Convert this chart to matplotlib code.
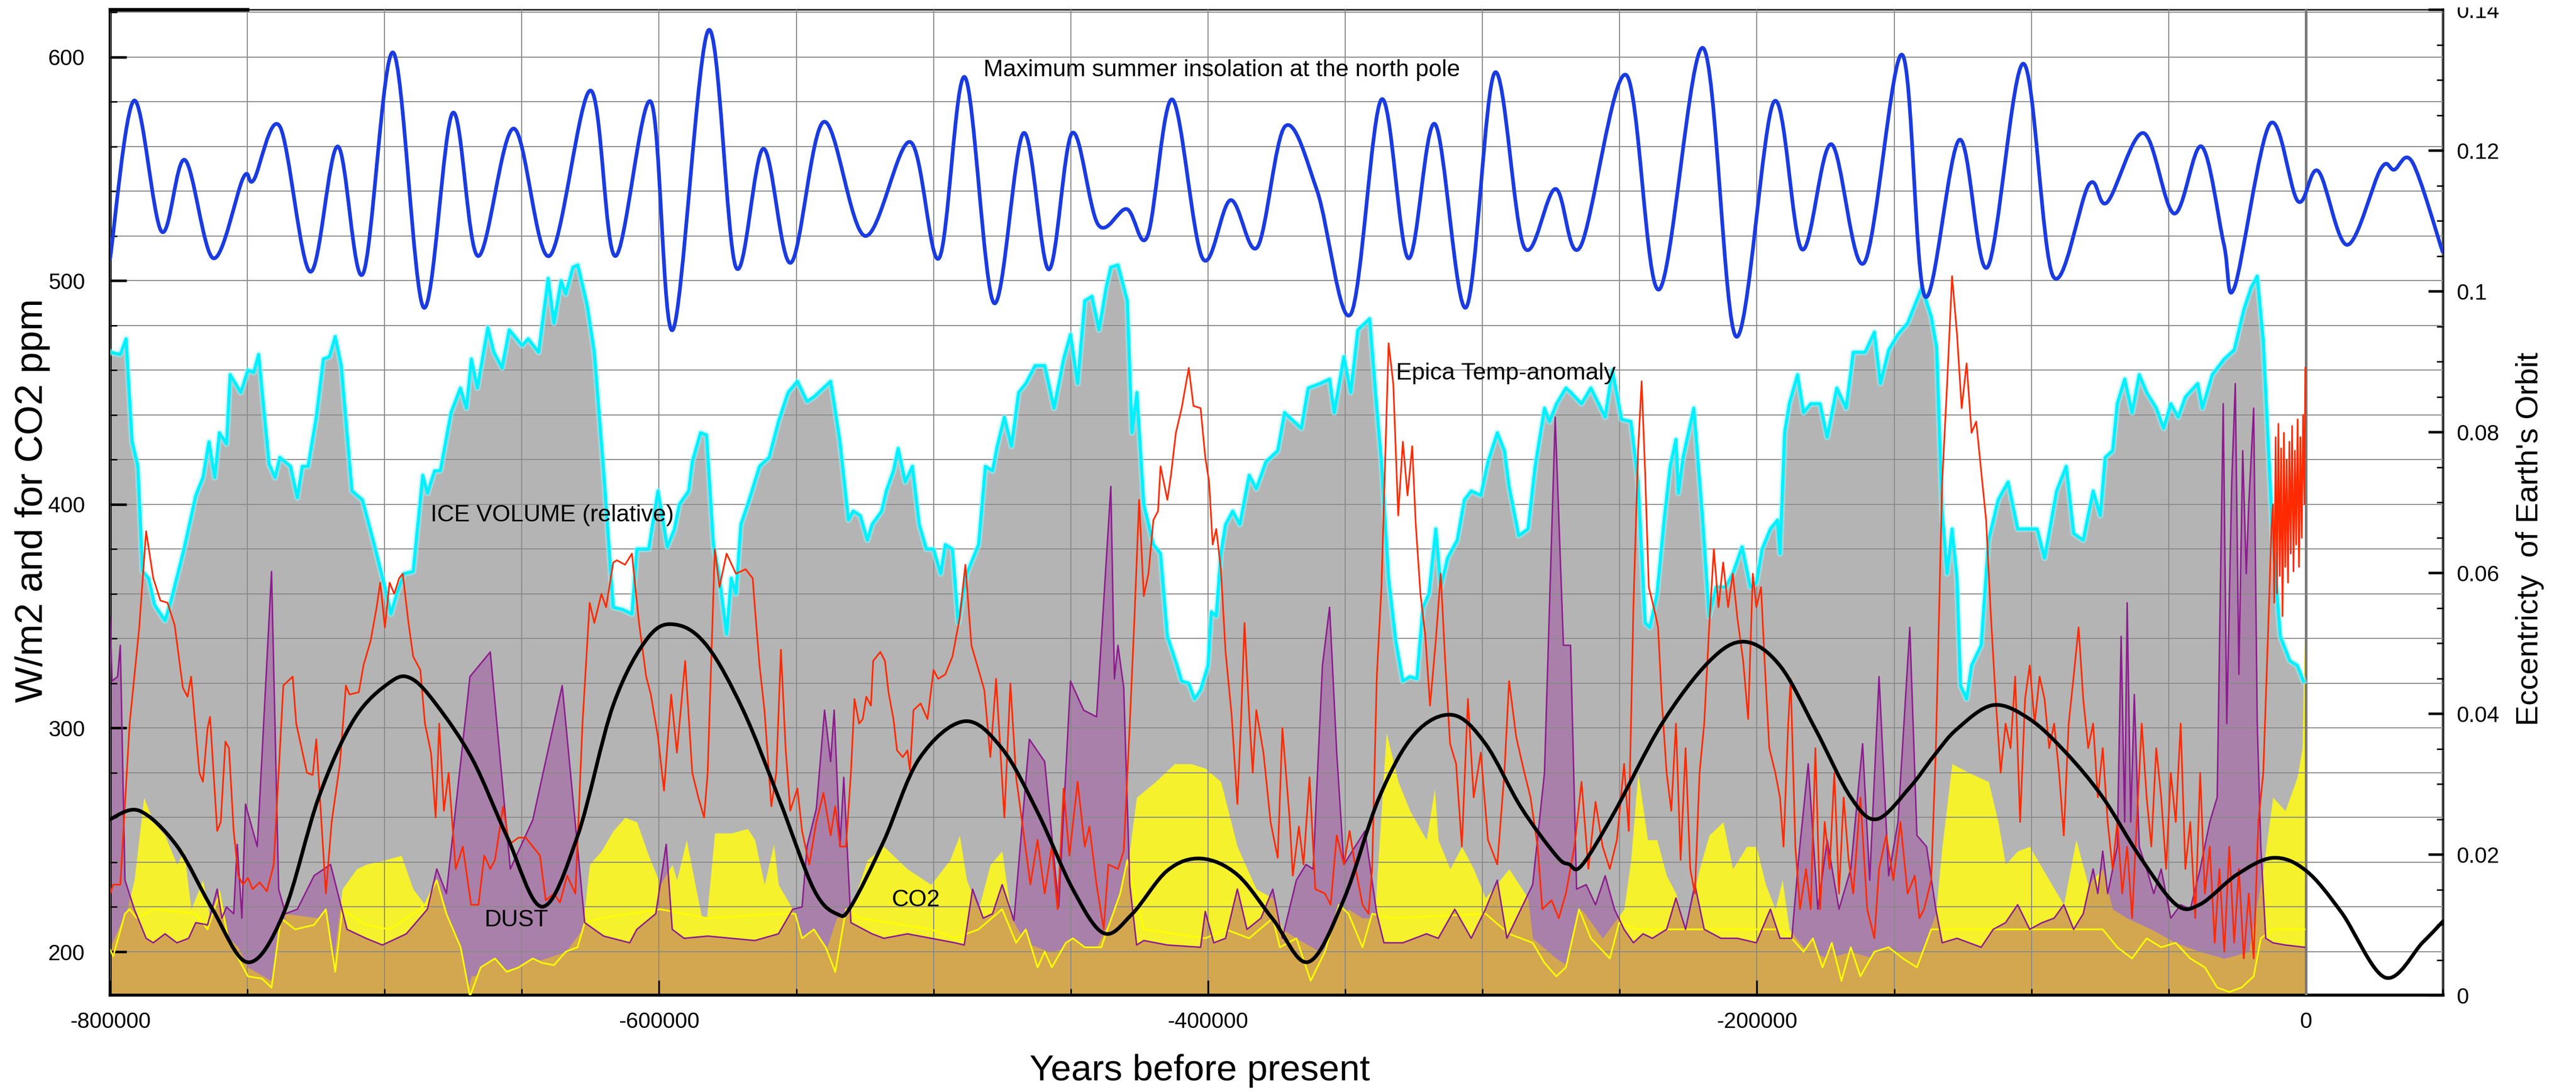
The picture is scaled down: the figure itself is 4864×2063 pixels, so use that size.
import numpy as np
import matplotlib
matplotlib.use("Agg")
import matplotlib.pyplot as plt
from matplotlib.ticker import MultipleLocator, FixedLocator, FixedFormatter
from matplotlib.path import Path
from matplotlib.patches import PathPatch, Rectangle

plt.rcParams['font.family'] = ['Liberation Sans', 'DejaVu Sans']

# ---------------- data (years in thousands of years, values on left scale) ----------------
insol_kyr = [-800.0,-791.3,-781.3,-772.8,-762.4,-751.5,-747.7,-738.2,-727.1,-717.1,-707.9,-696.9,-685.8,-675.2,-666,-653,-640,-625,-616,-603,-595,-582,-572,-562,-552,-540,-525,-508.5,-498,-488.6,-478,-467.2,-458,-449.5,-440,-429.6,-422,-413,-402,-391.8,-382,-371.9,-360.2,-348,-336.8,-327,-317.3,-306,-295.5,-284.8,-273.4,-264.4,-247.7,-235.7,-219.6,-207.6,-193.8,-183.6,-172.9,-160.9,-147.1,-138.8,-126.2,-116,-102.9,-92.1,-79,-72.4,-59.2,-48,-38,-29.9,-26.0,-13.1,-2.9,4.5,15.1,27.3,32.2,38.8,49.8]
insol_wm2 = [510,580.5,522,554,510,546,545,569,504,560,503,602,488,575,511,568,511,585,511,580,478,612,506,559,508,571,520,562,510,591,490,566,505,566,525,532,520,581,510,536,515,569,540,485,581,510,570,488,593,515,541,515,592,496,604,475,580,514,561,508,601,493,563,506,597,502,543,535,566,530,560,516.5,497,570,535.5,549,516,550,549.6,553,513]

ecc_kyr = [-800.0,-789.4,-775.7,-762.8,-749.8,-736.9,-724.0,-711.1,-698.2,-690.4,-681.0,-668.0,-655.5,-642.6,-629.7,-616.7,-603.8,-593.5,-582.3,-569.4,-556.5,-543.6,-535.0,-530.1,-518.1,-505.2,-488.8,-475.0,-462.1,-449.2,-438.0,-427.7,-414.8,-402.5,-389.3,-376.4,-363.5,-350.5,-337.6,-324.7,-310.9,-298.9,-286.0,-273.1,-268.5,-263.9,-251.9,-234.7,-217.4,-204.5,-191.6,-178.7,-165.8,-156.3,-144.3,-135.5,-127.1,-113.9,-100.6,-87.3,-74.0,-60.7,-47.4,-38.5,-25.2,-12.0,0.0,12.9,28.9,42.6,50.0]
ecc_val = [0.0250,0.0262,0.0212,0.01226,0.00466,0.01153,0.0281,0.0392,0.0444,0.0450,0.0412,0.0335,0.0226,0.01256,0.0226,0.0412,0.0509,0.0526,0.0495,0.0405,0.0281,0.0150,0.0115,0.0126,0.0219,0.0336,0.0389,0.0350,0.0260,0.0150,0.0088,0.0115,0.0177,0.0194,0.0171,0.0108,0.0047,0.0136,0.0281,0.0371,0.0398,0.0357,0.0267,0.0198,0.0186,0.0184,0.0260,0.0385,0.0474,0.0502,0.0468,0.0378,0.0281,0.0250,0.0295,0.0340,0.0378,0.0412,0.0392,0.0344,0.0281,0.0198,0.0129,0.0129,0.0171,0.0195,0.0177,0.0118,0.0025,0.0075,0.0105]

ice_kyr = [-799.8,-796.3,-794.2,-792.0,-789.9,-788.2,-786.0,-783.8,-780.0,-777.8,-773.1,-768.8,-766.2,-764.0,-761.9,-760.2,-757.6,-756.3,-752.4,-749.8,-747.7,-745.9,-742.1,-739.9,-738.2,-734.3,-731.8,-730.0,-727.9,-724.9,-722.3,-720.1,-718.0,-715.8,-711.9,-708.1,-704.2,-699.9,-697.7,-695.6,-693.0,-689.6,-686.1,-684.4,-681.8,-679.7,-675.8,-672.4,-670.2,
           -668.4,-666.2,-662.4,-660.2,-657.2,-654.6,-649.9,-647.7,-643.9,-640.4,-638.3,-635.7,-634.0,-631.4,-629.6,-626.2,-623.6,-620.2,-616.7,-613.3,-609.9,-608.1,-603.8,-600.4,-597.0,-594.4,-592.6,-589.2,-587.9,-584.9,-582.7,-580.2,-578.0,-575.4,-573.7,-572.0,-570.2,-567.7,-563.4,-559.9,-556.5,-553.0,-549.6,-546.1,-543.6,-540.1,-537.5,-536.2,-534.1,
           -531.0,-529.3,-526.7,-524.1,-522.4,-518.9,-517.2,-514.6,-512.9,-510.3,-507.7,-505.2,-502.6,-500.0,-497.4,-495.7,-493.1,-491.0,-487.9,-483.6,-481.1,-478.5,-476.8,-474.2,-471.6,-469.0,-466.4,-463.0,-459.5,-456.1,-452.6,-450.1,-447.5,-444.9,-442.3,-439.7,-437.1,-435.4,-432.8,-429.4,-427.7,-425.9,-423.4,-419.9,-417.3,-414.8,-411.3,-409.6,-407.0,-404.9,-402.7,
           -400.0,-398.8,-397.0,-395.3,-393.6,-391.0,-388.4,-385.0,-382.4,-378.9,-374.6,-372.1,-369.5,-366.0,-363.5,-359.2,-355.7,-354.0,-350.5,-348.0,-345.4,-341.1,-338.5,-336.8,-334.2,-331.6,-329.0,-326.4,-323.9,-321.7,-319.5,-317.0,-315.2,-312.7,-309.2,-306.6,-304.1,-300.6,-298.0,-294.6,-292.0,-290.3,-286.8,-283.4,-280.8,-277.4,-275.6,-273.0,-269.6,
           -267.8,-263.9,-260.5,-255.3,-252.7,-249.3,-245.9,-243.3,-240.7,-239.0,-236.4,-233.8,-231.6,-229.5,-228.6,-226.9,-223.0,-220.0,-217.4,-214.9,-211.4,-208.8,-205.4,-202.4,-200.2,-198.1,-195.1,-192.5,-191.6,-189.9,-188.2,-185.2,-183.0,-180.4,-177.0,-174.4,-170.9,-167.5,-164.9,-160.6,-157.2,-155.0,-152.0,-148.6,-145.1,-139.9,-136.5,
           -134.5,-132.5,-130.7,-128.9,-127.1,-125.8,-123.6,-121.8,-118.3,-115.6,-112.1,-108.5,-105.0,-100.6,-97.9,-95.2,-90.8,-87.3,-84.6,-81.1,-77.5,-74.9,-73.1,-70.4,-68.7,-66.0,-63.3,-60.7,-58.0,-54.5,-51.8,-49.2,-46.5,-43.9,-39.4,-37.7,-34.1,-29.7,-26.1,-22.6,-19.9,-17.7,-15.5,-12.0,-9.3,-5.8,-3.1,-0.9]
ice_val = [468,467,474,428,417,370,367,355,348,357,380,404,412,428,412,432,427,458,450,460,459,467,418,412,421,417,403,417,417,439,465,466,475,462,406,402,384,363,351,360,369,370,413,405,415,415,441,452,443,
           465,452,479,468,461,478,471,474,468,501,481,500,494,506,507,489,468,415,354,353,351,380,380,406,381,389,400,406,419,432,431,382,367,342,367,360,391,400,417,421,437,450,455,446,448,452,455,445,428,
           393,397,395,384,391,397,406,415,425,410,417,391,380,380,369,382,380,347,369,382,417,415,426,439,426,450,454,462,462,443,465,476,454,491,493,478,497,506,507,491,432,450,400,382,378,341,328,321,320,313,317,
           328,352,350,378,391,397,391,413,407,419,424,441,438,434,452,454,456,441,466,450,478,483,443,419,367,339,321,323,322,354,360,389,363,376,384,402,406,404,419,432,424,408,386,389,417,443,437,445,452,
           450,445,452,439,460,438,437,410,347,345,360,393,417,429,405,421,443,397,350,363,363,369,381,363,365,380,389,393,378,432,445,458,441,445,445,430,452,443,468,468,477,454,469,476,481,497,484,
           470,397,369,389,367,319,313,328,337,384,402,410,389,389,389,376,406,417,387,384,406,395,421,424,445,456,441,458,450,443,434,445,439,448,454,443,458,465,469,487,497,502,473,384,341,330,328,321]

temp_kyr = [-800.0,-798.9,-796.3,-792.9,-789.4,-786.9,-784.3,-781.7,-779.1,-776.5,-773.5,-771.8,-770.5,-767.5,-766.2,-764.5,-763.6,-761.0,-759.7,-758.0,-756.7,-755.0,-753.3,-751.6,-749.8,-748.1,-745.5,-742.9,-740.4,-736.9,-733.5,-732.2,-728.3,-726.2,-724.9,-721.4,-719.3,-716.3,-714.1,-712.8,-709.4,-707.7,-705.1,-702.9,-701.6,-699.9,-698.2,-696.5,-694.7,-693.4,-691.3,-689.6,-687.0,-685.3,-683.1,-681.4,-680.1,-678.4,-676.7,-674.1,-671.5,-668.5,
            -665.8,-663.7,-661.5,-659.8,-656.8,-654.6,-651.2,-648.6,-646.0,-643.4,-641.3,-638.3,-636.1,-633.5,-630.5,-627.9,-625.3,-623.6,-621.0,-619.3,-616.7,-615.4,-612.4,-609.9,-607.3,-604.7,-603.0,-600.4,-598.2,-595.6,-593.5,-590.5,-587.9,-585.7,-583.6,-582.3,-579.7,-578.0,-575.4,-572.0,-568.5,-565.9,-565.1,-563.4,-561.6,-559.1,-557.3,-555.6,-553.9,-552.2,-549.6,-547.9,-545.3,-542.7,-540.1,-537.5,-535.8,
            -534.0,-531.9,-530.1,-528.8,-527.1,-525.8,-524.5,-522.8,-522.0,-519.4,-517.7,-516.4,-514.6,-513.3,-511.2,-509.5,-508.6,-507.3,-504.7,-502.2,-500.0,-498.3,-495.7,-493.1,-490.5,-488.4,-486.2,-483.6,-481.5,-479.3,-477.2,-474.2,-472.0,-469.9,-467.3,-464.7,-462.1,-459.5,-456.9,-454.8,-452.6,-450.5,-447.5,-444.9,-443.2,-440.6,-438.0,-436.3,-432.8,-430.7,-428.5,-426.8,-425.1,-423.4,-421.7,-419.9,-418.2,-417.3,-414.8,-413.5,-411.7,-409.6,-407.0,-405.3,-402.7,-401.0,
            -399.6,-398.3,-397.0,-395.3,-393.6,-391.4,-389.3,-388.0,-386.7,-385.0,-383.7,-382.4,-379.8,-377.2,-374.6,-372.9,-370.3,-369.1,-366.9,-365.2,-363.0,-360.9,-357.4,-355.3,-353.1,-350.5,-348.4,-346.2,-343.7,-341.5,-340.2,-338.5,-336.8,-334.2,-332.5,-330.7,-329.0,-327.3,-325.6,-324.3,-322.6,-320.8,-319.1,-317.0,-315.2,-313.5,-311.8,-309.6,-307.5,-305.3,-303.2,-300.6,-298.0,-294.6,-292.0,-290.3,-287.7,-285.1,-282.5,-279.9,-278.2,-274.8,-272.2,-269.6,
            -266.5,-263.9,-261.4,-258.8,-256.2,-253.6,-251.0,-248.4,-246.7,-245.0,-243.3,-242.0,-240.7,-239.4,-237.2,-236.0,-234.7,-232.9,-231.2,-229.5,-227.8,-226.0,-224.3,-222.6,-220.9,-219.2,-217.4,-215.7,-214.0,-212.3,-210.5,-208.8,-207.1,-205.0,-203.2,-201.5,-200.2,-198.5,-197.2,-195.5,-193.3,-191.6,-190.3,-188.6,-187.7,-186.0,-184.3,-182.1,-180.4,-178.7,-177.0,-175.3,-173.5,-171.8,-170.1,-168.4,-166.6,-164.9,-162.3,-159.8,-157.2,-155.5,-152.9,-150.3,-147.7,-145.1,-142.5,-140.8,-139.1,-136.5,-134.8,
            -132.5,-130.7,-128.9,-127.1,-125.4,-123.6,-121.8,-120.1,-118.3,-116.5,-114.7,-113.0,-111.2,-109.4,-107.6,-105.9,-104.1,-102.3,-100.6,-98.8,-97.0,-95.2,-93.5,-91.7,-89.9,-88.2,-86.4,-84.6,-82.8,-81.1,-79.3,-77.5,-75.8,-74.0,-72.2,-70.4,-68.7,-66.9,-65.1,-63.3,-61.6,-59.8,-58.0,-56.3,-54.5,-52.7,-50.9,-49.2,-47.4,-45.6,-43.9,-42.1,-40.3,-38.5,-36.8,-35.0,-33.2,-31.5,-29.7,-27.9,-26.1,-24.4,-22.6,-20.8,-19.0,-17.3,-15.5,-13.7,
            -12.5,-12.0,-11.5,-11.0,-10.5,-10.0,-9.5,-9.0,-8.5,-8.0,-7.5,-7.0,-6.5,-6.0,-5.5,-5.0,-4.5,-4.0,-3.5,-3.0,-2.5,-2.0,-1.5,-1.0,-0.5,-0.2]
temp_val = [226,230,230,302,345,388,367,357,356,346,318,314,323,280,276,300,305,254,258,294,291,254,234,230,233,228,231,227,239,319,323,302,280,279,295,226,258,284,319,315,316,328,339,354,365,345,365,360,367,369,347,332,326,302,289,260,302,263,280,237,247,221,
            221,243,237,241,265,248,251,251,247,243,223,226,222,234,226,302,356,347,360,354,374,375,373,378,347,323,315,296,272,315,289,330,280,269,260,280,380,363,378,369,371,367,354,328,308,265,280,335,291,263,273,254,239,258,271,252,265,
            247,247,280,313,302,304,314,310,330,334,330,316,304,290,287,290,281,308,311,304,326,322,324,332,349,373,337,326,317,287,322,260,320,278,254,230,250,226,247,219,273,243,276,247,256,230,210,239,237,245,302,349,402,359,369,393,397,417,402,413,432,443,461,444,443,421,
            410,382,389,371,334,306,266,302,347,306,280,308,289,258,242,300,260,234,256,239,278,228,226,221,252,239,254,237,221,217,237,323,363,472,454,395,428,404,426,391,360,341,310,339,369,328,293,284,247,313,269,289,250,239,280,321,296,282,269,247,219,223,215,226,
            247,276,237,267,247,237,250,284,254,354,424,455,413,363,352,345,313,280,263,302,241,291,237,226,280,302,345,380,354,374,354,369,349,330,304,369,354,363,330,291,280,269,247,302,322,247,219,237,219,291,219,258,237,280,226,269,241,226,269,219,206,237,252,232,258,226,234,215,219,232,291,
            410,454,502,476,443,463,432,437,415,393,349,313,280,302,291,323,258,313,328,302,323,313,291,302,280,252,302,323,345,313,291,302,269,291,258,237,258,226,247,215,258,302,269,247,291,269,237,280,258,302,237,258,215,280,226,247,204,237,200,247,204,237,197,226,197,258,280,345,
            390,400,356,430,360,436,368,425,350,432,372,420,365,428,378,435,370,424,382,438,372,430,385,440,400,461]

dust_kyr = [-800.0,-799.3,-797.3,-796.3,-794.6,-791.2,-786.9,-784.3,-780.0,-775.7,-771.4,-768.8,-764.5,-761.0,-759.3,-757.6,-755.0,-753.7,-752.0,-750.7,-746.4,-741.2,-738.6,-736.1,-731.8,-725.7,-719.7,-713.7,-706.8,-700.8,-692.1,-684.4,-681.0,-677.5,-668.9,
            -661.5,-654.2,-646.0,-635.3,-627.1,-620.2,-610.7,-608.1,-601.2,-597.4,-595.2,-590.9,-582.3,-573.7,-565.1,-556.5,-551.3,-547.9,-546.1,-542.7,-539.7,-537.5,-536.2,-534.1,
            -532.7,-531.4,-530.1,-522.4,-518.1,-509.5,-500.9,-492.2,-488.8,-485.8,-481.9,-478.5,-475.0,-470.7,-465.1,-459.5,-454.4,-450.1,-445.3,-440.6,-435.4,-434.1,-432.8,-430.7,-428.5,-426.0,-423.4,-414.8,-402.7,-401.0,
            -397.9,-393.6,-389.3,-385.8,-380.7,-376.4,-372.9,-367.8,-364.3,-361.7,-358.3,-355.7,-353.1,-350.5,-342.8,-338.5,-335.9,-329.0,-320.4,-316.1,-310.1,-304.1,-298.9,-294.6,-291.1,-281.7,-277.4,-273.5,-270.5,-267.9,
            -265.7,-262.2,-258.8,-255.3,-251.9,-248.4,-245.0,-241.5,-238.1,-232.9,-229.5,-226.0,-222.6,-219.2,-213.1,-207.1,-200.2,-195.1,-191.6,-187.3,-184.7,-181.3,-177.8,-174.4,-170.1,-165.8,-161.5,-158.9,-155.5,-152.0,-148.6,-144.3,-141.7,-138.2,-134.8,
            -132.5,-127.1,-122.7,-118.3,-113.9,-109.4,-105.0,-100.6,-96.1,-91.7,-88.2,-84.6,-81.1,-77.5,-75.8,-74.0,-72.2,-68.7,-67.3,-66.0,-65.1,-63.8,-62.5,-60.7,-58.0,-55.4,-52.7,-49.2,-45.6,-42.1,-38.5,-35.0,-32.3,-30.1,-28.8,-27.0,-25.7,-24.4,-23.0,-21.7,-20.8,-19.0,-17.7,-16.4,-14.6,-12.0,-7.5,-0.4]
dust_val = [350,321,323,337,232,219,206,204,208,204,206,213,212,228,215,220,217,248,215,266,247,370,228,217,219,234,239,210,206,203,208,219,237,226,323,
            334,237,259,319,213,207,204,210,217,248,210,206,207,206,205,208,219,220,247,264,308,285,308,247,
            278,245,213,208,206,208,206,204,203,228,215,217,230,214,295,285,220,321,308,305,408,322,337,318,230,203,205,203,202,218,
            204,206,228,210,215,228,206,232,239,237,328,354,289,239,254,217,204,204,208,206,219,206,219,232,206,230,280,439,337,337,
            228,230,221,234,219,210,204,208,206,210,224,210,230,210,206,206,204,219,206,206,243,284,219,250,219,237,293,232,323,234,258,345,252,247,219,
            204,206,204,202,210,213,221,210,213,215,221,210,217,237,226,245,226,247,341,258,356,258,315,247,237,226,237,215,221,219,237,258,269,445,302,410,454,324,424,369,400,443,302,247,206,204,203,202]

co2_kyr = [-800.0,-793.8,-791.2,-787.7,-784.3,-780.0,-775.7,-773.1,-770.5,-766.2,-763.6,-760.2,-756.7,-753.3,-749.8,-741.2,-736.1,-724.0,-718.8,-715.4,-710.2,-706.8,-699.9,-693.9,-689.6,-685.3,-681.0,-676.7,-669.8,
           -668.4,-651.2,-634.0,-627.9,-625.3,-621.0,-616.7,-612.4,-608.1,-603.8,-599.5,-595.2,-593.5,-590.0,-585.7,-583.2,-579.7,-573.7,-567.7,-565.1,-561.6,-558.2,-556.5,-551.3,-547.9,-539.3,
           -535.3,-530.1,-524.1,-518.1,-509.5,-500.9,-494.0,-490.5,-487.9,-483.6,-479.3,-475.0,-471.6,-466.4,-457.8,-449.2,-440.6,-433.7,-429.4,-426.0,-419.1,-412.2,-406.1,-401.0,
           -395.3,-389.3,-382.4,-376.4,-372.9,-367.8,-359.2,-354.0,-348.8,-343.7,-339.3,-335.0,-330.7,-326.4,-320.4,-317.4,-316.1,-311.8,-307.5,-303.2,-298.9,-290.3,-283.4,-281.7,-273.1,-267.9,
           -263.9,-256.2,-248.4,-245.9,-243.3,-239.8,-236.4,-232.9,-229.5,-226.0,-220.9,-217.4,-212.3,-208.8,-203.7,-200.2,-196.8,-193.3,-190.7,-188.2,-183.0,-174.4,-165.8,-157.2,-148.6,-140.0,-134.8,
           -132.5,-128.9,-122.7,-115.6,-112.1,-109.4,-105.0,-100.6,-93.5,-88.2,-83.7,-79.3,-74.0,-70.4,-65.1,-56.3,-47.4,-38.5,-29.7,-20.8,-15.5,-12.0,-7.5,-3.1,-1.3,0.0]
co2_ppm = [202,219,232,269,258,252,239,245,219,232,215,228,206,202,193,187,217,215,193,228,237,239,241,243,228,221,232,215,182,
           189,193,200,210,239,245,254,260,258,243,230,239,232,250,223,208,253,253,255,250,230,248,230,219,204,200,
           215,219,241,247,237,230,241,252,232,219,239,245,215,204,200,202,202,219,237,269,276,284,284,282,
           276,247,228,224,210,206,200,204,219,215,215,298,276,263,250,273,250,237,247,237,224,237,224,206,197,193,
           219,206,219,241,280,250,250,234,226,210,237,252,258,237,247,247,230,219,232,210,202,197,200,197,200,200,217,
           247,284,280,276,258,239,245,247,232,221,250,230,237,219,215,210,204,200,197,200,237,269,263,278,291,367]

low_kyr = [-800.0,-798.9,-794.6,-792.9,-790.3,-784.3,-775.7,-768.8,-764.5,-760.2,-756.7,-753.3,-749.8,-744.7,-741.2,-737.8,-732.6,-725.7,-721.4,-718.0,-715.4,-706.8,-698.2,-689.6,-685.3,-681.0,-677.5,-672.3,-668.9,
           -665.0,-659.8,-655.5,-651.2,-646.0,-642.6,-638.3,-634.0,-629.7,-627.1,-621.0,-599.5,-582.3,-556.5,-550.4,-547.9,-543.6,-539.3,-535.8,
           -531.9,-526.7,-500.9,-492.2,-483.6,-475.0,-469.9,-466.4,-462.1,-459.5,-456.9,-451.8,-449.2,-444.9,-438.9,-437.2,-432.0,-429.4,-423.4,-401.0,
           -393.6,-385.0,-376.4,-373.8,-367.8,-362.6,-357.4,-352.3,-348.8,-343.7,-340.2,-333.3,-298.9,-290.3,-281.7,-277.4,-273.1,-269.6,
           -264.8,-260.5,-253.6,-250.2,-243.3,-191.6,-187.3,-183.0,-179.6,-176.1,-172.7,-169.2,-165.8,-162.3,-157.2,-152.0,-146.8,-141.7,-136.5,
           -127.1,-74.0,-68.7,-63.3,-58.0,-52.7,-47.4,-42.1,-36.8,-32.3,-27.9,-23.4,-19.0,-16.4,-12.0,-0.4]
low_val = [201,198,217,219,215,219,218,217,210,226,204,197,189,188,184,215,210,212,219,191,219,212,210,217,221,232,217,202,180,
           193,197,191,193,197,195,194,200,202,213,215,219,215,217,217,206,210,202,191,
           219,215,210,206,210,219,204,210,193,200,193,204,206,202,202,208,226,241,210,206,
           210,206,215,202,206,187,200,221,217,202,217,215,217,208,204,195,189,193,
           219,206,197,213,210,210,206,200,206,193,204,187,202,189,200,202,197,193,210,
           210,210,202,197,206,202,204,197,193,184,182,184,189,206,210,210]

x_ticks = [-800000, -600000, -400000, -200000, 0]
x_ticklabels = ["-800000", "-600000", "-400000", "-200000", "0"]
y_ticks = [200, 300, 400, 500, 600]
ecc_ticks = [0, 0.02, 0.04, 0.06, 0.08, 0.10, 0.12, 0.14]
ecc_ticklabels = ["0", "0.02", "0.04", "0.06", "0.08", "0.1", "0.12", "0.14"]


def yrs(k):
    return np.asarray(k, dtype=float) * 1000.0


def smooth_curve(xs, ys):
    """Path that passes through every data point, drawn with cubic Bezier segments."""
    P = np.column_stack([xs, ys]).astype(float)
    n = len(P)
    verts = [P[0]]
    codes = [Path.MOVETO]
    for i in range(n - 1):
        p0 = P[i - 1] if i > 0 else P[i]
        p1 = P[i]
        p2 = P[i + 1]
        p3 = P[i + 2] if i + 2 < n else P[i + 1]
        verts += [p1 + (p2 - p0) / 6.0, p2 - (p3 - p1) / 6.0, p2]
        codes += [Path.CURVE4] * 3
    return Path(verts, codes)


# ---------------- figure ----------------
W, H = 4864, 2063
DPI = 200
fig = plt.figure(figsize=(W / DPI, H / DPI), dpi=DPI)
ax = fig.add_axes([208 / W, 1 - 1880 / H, (4613 - 208) / W, (1880 - 18) / H])
YMIN, YMAX = 180.6, 621.2
ax.set_xlim(-800000, 50000)
ax.set_ylim(YMIN, YMAX)

GRAY = '#b4b4b4'
YELLOW = '#f5f12c'
ax.fill_between(yrs(ice_kyr), YMIN, ice_val, color=GRAY, lw=0, zorder=1.0)
ax.fill_between(yrs(co2_kyr), YMIN, co2_ppm, color=YELLOW, lw=0, zorder=1.1)
ax.fill_between(yrs(low_kyr), YMIN, low_val, color=YELLOW, lw=0, zorder=1.1)
ax.fill_between(yrs(dust_kyr), YMIN, dust_val, color=(0.59, 0.12, 0.59), alpha=0.35, lw=0, zorder=1.2)

ax.set_axisbelow(False)
ax.xaxis.set_minor_locator(MultipleLocator(50000))
ax.yaxis.set_minor_locator(MultipleLocator(20))
ax.grid(True, which='both', color='#8a8a8a', lw=0.7)
ax.axvline(0, color='#7a7a7a', lw=1.8, zorder=2.6)

ax.plot(yrs(ice_kyr), ice_val, color='#8ff9ff', lw=4.4, alpha=0.5, zorder=3.0, solid_joinstyle='round')
ax.plot(yrs(ice_kyr), ice_val, color='#00f0ff', lw=2.1, zorder=3.05, solid_joinstyle='round')
ax.plot(yrs(low_kyr), low_val, color='#ffff00', lw=1.1, zorder=3.1)
ax.plot(yrs(dust_kyr), dust_val, color='#8c1c8e', lw=1.0, zorder=3.2)
ax.plot(yrs(temp_kyr), temp_val, color='#ff2a00', lw=1.1, zorder=3.3)
ax.add_patch(PathPatch(smooth_curve(yrs(insol_kyr), insol_wm2), fill=False,
                       edgecolor='#1a3be0', lw=2.5, zorder=3.4, joinstyle='round', capstyle='round'))

ax.set_xticks(x_ticks)
ax.set_xticklabels(x_ticklabels)
ax.set_yticks(y_ticks)
ax.set_yticklabels([str(v) for v in y_ticks])
ax.tick_params(axis='y', which='major', direction='in', length=11, width=1.7, labelsize=15, pad=17, right=False)
ax.tick_params(axis='y', which='minor', direction='in', length=4.5, width=1.0, right=False)
ax.tick_params(axis='x', which='major', direction='in', length=10, width=1.2, labelsize=15, pad=11, top=False)
ax.tick_params(axis='x', which='minor', direction='in', length=4.5, width=1.0, top=False)

for s in ['left', 'bottom']:
    ax.spines[s].set_linewidth(2.0)
ax.spines['top'].set_linewidth(0.9)
ax.spines['right'].set_linewidth(1.6)
ax.axhline(YMAX, xmin=0, xmax=50 / 850, color='k', lw=2.4, clip_on=False, zorder=5)

ax2 = ax.twinx()
ax2.set_ylim(0, 0.14)
ax2.add_patch(PathPatch(smooth_curve(yrs(ecc_kyr), ecc_val), fill=False,
                        edgecolor='k', lw=2.5, zorder=3, joinstyle='round', capstyle='round'))
ax2.set_xlim(-800000, 50000)
ax2.yaxis.set_major_locator(FixedLocator(ecc_ticks))
ax2.yaxis.set_major_formatter(FixedFormatter(ecc_ticklabels))
ax2.yaxis.set_minor_locator(MultipleLocator(0.005))
ax2.tick_params(axis='y', which='major', direction='in', length=10, width=1.7, labelsize=15, pad=9)
ax2.tick_params(axis='y', which='minor', direction='in', length=4.5, width=1.0)
for s in ax2.spines.values():
    s.set_visible(False)

txt = dict(fontsize=16, color='k', zorder=6, va='center', ha='left')
ax.text(-481900, 594, "Maximum summer insolation at the north pole", **txt)
ax.text(-683300, 395, "ICE VOLUME (relative)", **txt)
ax.text(-331400, 458.6, "Epica Temp-anomaly", **txt)
ax.text(-663600, 214, "DUST", **txt)
ax.text(-515200, 223, "CO2", **txt)

fig.text(2265 / W, 1 - 2023 / H, "Years before present", fontsize=25, ha='center', va='center')
fig.text(62 / W, 1 - 946 / H, "W/m2 and for CO2 ppm", fontsize=26, rotation=90, ha='center', va='center')
fig.text(4777 / W, 1 - 1018 / H, "Eccentricty  of Earth's Orbit", fontsize=21, rotation=90, ha='center', va='center')

# the source image is trimmed along its top edge (cuts the "0.14" label)
fig.patches.append(Rectangle((0, 1 - 14 / H), 1, 14 / H, transform=fig.transFigure,
                             facecolor='white', edgecolor='none', zorder=10))

fig.savefig("out.png", dpi=DPI, facecolor='white')
